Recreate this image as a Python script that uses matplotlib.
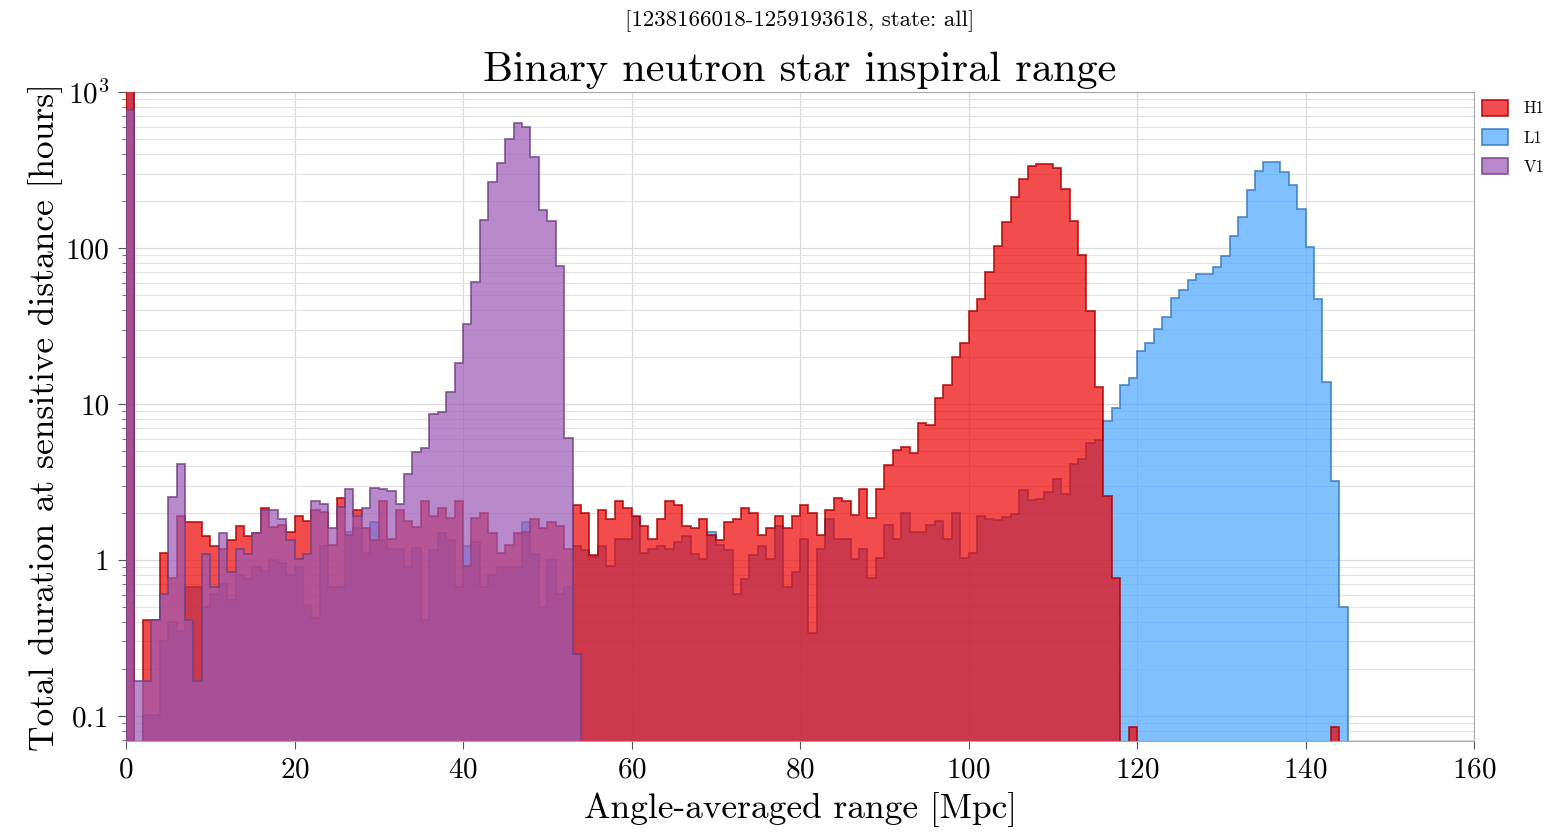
import numpy as np
import matplotlib
matplotlib.use("Agg")
import matplotlib.pyplot as plt
from matplotlib.colors import to_rgb

plt.rcParams['font.family'] = 'serif'
plt.rcParams['font.serif'] = ['cmr10', 'DejaVu Serif']
plt.rcParams['mathtext.fontset'] = 'cm'
plt.rcParams['axes.formatter.use_mathtext'] = True

# 1 Mpc bins from 0 to 160
edges = np.arange(0, 161)

# hours per bin (0 = empty bin)
h1 = [1500, 0, 0.41, 0.41, 1.10, 0.76, 1.91, 1.76, 1.76, 1.43,
      1.23, 1.17, 1.34, 1.65, 1.43, 1.48, 2.16, 1.62, 1.67, 1.50,
      1.91, 1.78, 2.09, 2.04, 1.25, 2.48, 1.45, 2.09, 1.60, 1.34,
      2.40, 1.36, 2.09, 1.78, 1.62, 2.40, 1.91, 2.16, 1.85, 2.37,
      0.915, 1.85, 1.99, 1.48, 1.10, 1.24, 1.48, 1.50, 1.83, 1.60,
      1.76, 1.65, 1.17, 2.25, 1.99, 1.08, 2.09, 1.83, 2.37, 2.16,
      1.91, 1.65, 1.36, 1.83, 2.37, 2.25, 1.65, 1.60, 1.83, 1.45,
      1.34, 1.76, 1.83, 2.14, 1.99, 1.45, 1.60, 1.90, 1.60, 1.90,
      2.25, 1.99, 1.45, 2.09, 2.48, 2.40, 1.94, 2.84, 1.87, 2.86,
      4.07, 5.1, 5.3, 4.86, 7.5, 7.3, 11.0, 13.3, 20.0, 24.5,
      39.6, 47.2, 70.3, 103, 146, 212, 278, 334, 345, 345,
      326, 239, 149, 90.8, 39.6, 12.9, 2.58, 0.77, 0, 0.084,
      0, 0, 0, 0, 0, 0, 0, 0, 0, 0,
      0, 0, 0, 0, 0, 0, 0, 0, 0, 0,
      0, 0, 0, 0.084, 0, 0, 0, 0, 0, 0,
      0, 0, 0, 0, 0, 0, 0, 0, 0, 0]

l1 = [1200, 0, 0.1, 0.1, 0.3, 0.4, 0.35, 0.67, 0.67, 0.5,
      0.6, 0.7, 0.55, 0.8, 0.75, 0.9, 0.85, 1.0, 0.95, 0.8,
      0.9, 0.51, 0.42, 1.23, 0.67, 0.67, 1.50, 1.6, 1.1, 1.76,
      1.34, 1.17, 1.17, 0.9, 1.2, 0.41, 1.16, 1.48, 1.34, 0.67,
      1.23, 1.3, 0.67, 0.8, 0.9, 0.9, 0.9, 1.76, 1.09, 0.50,
      1.0, 0.6, 0.67, 1.23, 1.16, 1.04, 1.23, 0.915, 1.36, 1.36,
      1.88, 1.11, 1.17, 1.23, 1.17, 1.31, 1.43, 1.09, 1.02, 1.50,
      1.25, 1.16, 0.60, 0.75, 1.08, 1.23, 1.02, 1.65, 0.67, 0.84,
      1.36, 0.34, 1.17, 1.82, 1.36, 1.36, 1.02, 1.17, 0.77, 1.03,
      1.67, 1.37, 2.0, 1.5, 1.5, 1.67, 1.77, 1.37, 2.0, 1.03,
      1.11, 1.92, 1.84, 1.8, 1.89, 1.96, 2.81, 2.41, 2.45, 2.73,
      3.3, 2.63, 4.14, 4.44, 5.66, 5.9, 7.74, 9.45, 13.3, 14.7,
      21.8, 24.5, 30.3, 35.9, 47.7, 54.1, 62.8, 67.9, 67.9, 75.3,
      89.3, 119, 159, 235, 312, 355, 355, 308, 255, 179,
      101, 47, 13.8, 3.19, 0.5, 0, 0, 0, 0, 0,
      0, 0, 0, 0, 0, 0, 0, 0, 0, 0]

v1 = [770, 0.166, 0.166, 0.41, 0.60, 2.52, 4.12, 0.41, 0.166, 1.09,
      0.67, 1.48, 0.84, 1.17, 1.09, 1.48, 2.09, 2.09, 1.82, 1.34,
      1.02, 1.09, 2.40, 2.27, 1.60, 2.20, 2.84, 1.91, 2.16, 2.88,
      2.84, 2.77, 2.27, 3.55, 4.95, 5.2, 8.67, 8.94, 12.0, 18.3,
      32.7, 60.4, 152, 266, 352, 501, 635, 597, 386, 176,
      149, 76.6, 6.04, 0.25] + [0] * 106

colors = {'H1': '#ee0000', 'L1': '#4ba6ff', 'V1': '#9b59b6'}

fig = plt.figure(figsize=(15.5, 8.38), dpi=100)
ax = fig.add_axes([0.0813, 0.1158, 0.8697, 0.7742])

centers = edges[:-1] + 0.5
handles = {}
# L1 underneath, H1 over it, V1 on top
for name, vals, z in [('L1', l1, 2), ('H1', h1, 3), ('V1', v1, 4)]:
    base = to_rgb(colors[name])
    face = base + (0.7,)
    edge = tuple(c * 0.72 for c in base) + (0.8,)
    # small bottom keeps empty bins below the visible range
    n, b, patches = ax.hist(centers, bins=edges, weights=vals, bottom=1e-3,
                            histtype='stepfilled', log=True,
                            facecolor=face, edgecolor=edge,
                            linewidth=1.3, zorder=z)
    handles[name] = patches[0]

ax.set_xlim(0, 160)
ax.set_ylim(0.069, 1000)
ax.set_xticks(range(0, 161, 20))
ax.set_yticks([0.1, 1, 10, 100, 1000])
ax.set_yticklabels(['0.1', '1', '10', '100', r'$10^3$'])
ax.tick_params(axis='both', which='major', labelsize=21, length=6,
               color='#555555', pad=6)
ax.tick_params(axis='y', which='minor', length=3, color='#555555')

ax.grid(True, which='major', color='#dadada', linewidth=0.9, zorder=0)
ax.grid(True, which='minor', axis='y', color='#e2e2e2', linewidth=0.8,
        zorder=0)
ax.set_axisbelow(True)
for s in ax.spines.values():
    s.set_color('#aaaaaa')

ax.set_xlabel('Angle-averaged range [Mpc]', fontsize=25.5, labelpad=6)
ax.set_ylabel('Total duration at sensitive distance [hours]', fontsize=25.5,
              labelpad=2)
ax.set_title('Binary neutron star inspiral range', fontsize=30.5, pad=8)
ax.text(0.5, 1.0 + 71 / 649, '[1238166018-1259193618, state: all]',
        transform=ax.transAxes, ha='center', va='center', fontsize=16.5)

ax.legend([handles['H1'], handles['L1'], handles['V1']], ['H1', 'L1', 'V1'],
          loc='upper left', bbox_to_anchor=(1.0, 1.0), frameon=False,
          fontsize=12, handlelength=1.6, handleheight=1.1,
          borderaxespad=0.05, labelspacing=0.75, handletextpad=0.9)

fig.savefig('out.png', dpi=100)
